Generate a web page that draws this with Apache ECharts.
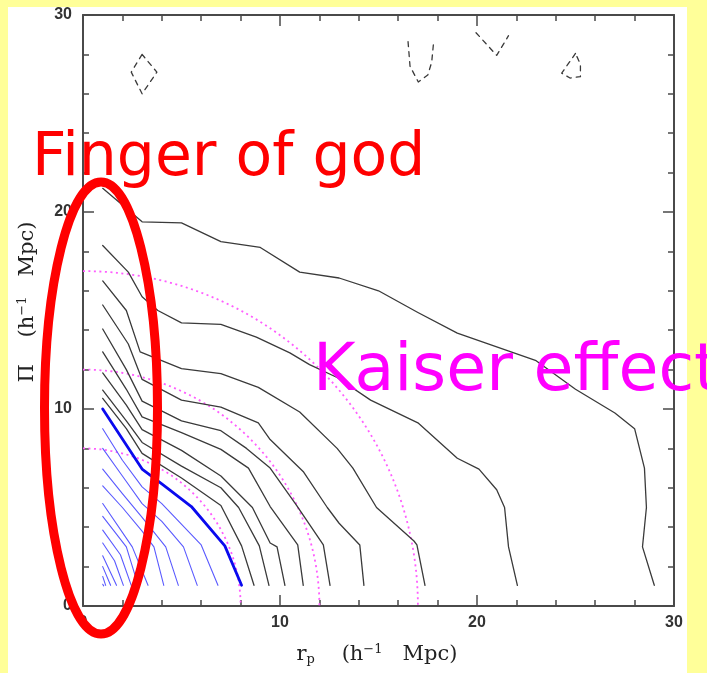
<!DOCTYPE html>
<html>
<head>
<meta charset="utf-8">
<script src="https://cdn.jsdelivr.net/npm/echarts@6/dist/echarts.min.js"></script>
<style>
  html, body { margin: 0; padding: 0; background: #ffff99; }
  #chart { width: 707px; height: 673px; }
</style>
</head>
<body>
<div id="chart"></div>
<script>
// Redshift-space correlation contours in the (r_p, Pi) plane, units h^-1 Mpc
const axisMin = 0;
const axisMax = 30;
const majorStep = 10;

// Solid contours drawn in black, outermost first
const blackContours = [
  [[1,21.2],[3,19.5],[5,19.45],[7,18.5],[9,18.2],[11,16.95],[13,16.65],[15,16.0],[17,14.9],[19,13.85],[21,13.15],[23,12.45],[25,11.0],[27,9.8],[28,9.0],[28.5,7.0],[28.6,5.0],[28.4,3.0],[29,1.05]],
  [[1,18.3],[2.3,16.95],[3,15.7],[3.8,15.0],[5,14.37],[7,14.3],[8.8,13.65],[10.5,12.85],[11.5,12.25],[12.9,11.6],[14.6,10.45],[17,9.3],[19,7.5],[20.1,6.95],[21,5.9],[21.4,5.0],[21.6,3.0],[22.05,1.05]],
  [[1,16.5],[2.2,15.0],[2.9,12.9],[5,12.05],[7,11.8],[8.9,11.1],[11,9.85],[12.9,8.0],[13.7,7.0],[14.9,5.0],[16.8,3.3],[16.95,3.1],[17.36,1.05]],
  [[1,15.28],[2.3,13.3],[3,11.5],[5,10.45],[7,10.1],[8.9,9.3],[9.5,8.45],[11.2,6.8],[12.4,5.0],[13,4.2],[14.05,3.1],[14.26,1.05]],
  [[1,14.06],[2.2,12.0],[3,10.4],[5,9.4],[7,8.9],[8.3,8.0],[9.5,7.0],[10.85,5.1],[12.2,3.1],[12.54,1.05]],
  [[1,12.9],[2.2,11.0],[3,9.6],[5,8.8],[7,7.95],[8.4,7.0],[9.5,5.05],[10.9,3.1],[11.18,1.05]],
  [[1,11.83],[2.2,10.2],[3,8.95],[5,7.9],[7,6.6],[8.6,5.0],[9.5,3.2],[9.85,3.0],[10.25,1.05]],
  [[1,10.96],[2.2,9.4],[3,8.3],[5,7.1],[7,6.0],[7.9,5.0],[8.95,3.05],[9.44,1.05]],
  [[1,10.54],[2.2,9.0],[3,7.75],[5,6.5],[7,5.1],[8.05,3.05],[8.68,1.05]]
];

// Highlighted contour (heavy blue)
const heavyContour = [[1,10.0],[3,6.95],[4,6.2],[5.5,5.05],[7.2,3.05],[8.05,1.05]];

// Inner contours drawn in thin blue, outermost first
const blueContours = [
  [[1,9.0],[2,7.4],[3,6.05],[4,5.2],[6,3.1],[6.85,1.05]],
  [[1,8.0],[2,6.6],[3,5.2],[4,4.3],[5.1,3.0],[5.8,1.05]],
  [[1,6.95],[2,5.7],[3,4.5],[4.2,3.0],[4.84,1.05]],
  [[1,6.1],[2,5.0],[3,3.8],[3.6,3.0],[4.1,1.05]],
  [[1,5.2],[2.5,3.0],[3.3,1.05]],
  [[1,4.55],[2.2,3.0],[2.8,1.05]],
  [[1,3.85],[1.9,2.6],[2.45,1.05]],
  [[1,3.2],[1.6,2.3],[2.05,1.05]],
  [[1,2.55],[1.7,1.05]],
  [[1,2.0],[1.4,1.05]],
  [[1,1.5],[1.15,1.05]],
  [[1,1.1],[1.05,1.02]]
];

// Negative-level contours (dashed) near the top edge
const negativeContours = [
  [[3,28],[2.45,27.1],[3,26],[3.75,27.1],[3,28]],
  [[16.5,28.65],[16.6,27.4],[17.02,26.6],[17.5,26.95],[17.7,27.6],[17.8,28.65]],
  [[19.95,29.1],[21,27.95],[21.6,28.95]],
  [[25,28.05],[24.3,27.05],[24.72,26.8],[25.25,26.87],[25.25,27.5],[25,28.05]]
];

// Real-space reference circles (radius, h^-1 Mpc)
const circleRadii = [8, 12, 17];

const chart = echarts.init(document.getElementById('chart'), null, { renderer: 'canvas' });

const frameColor = '#4a4a4a';
const tickFont = { fontFamily: 'Liberation Sans', fontWeight: 'bold', fontSize: 16, color: '#333' };

function makeAxis(pos, showLabels, isX) {
  return {
    type: 'value',
    min: axisMin,
    max: axisMax,
    interval: majorStep,
    position: pos,
    axisLine: { show: true, onZero: false, lineStyle: { color: frameColor, width: 2 } },
    axisTick: { show: true, inside: true, length: 11, lineStyle: { color: frameColor, width: 1.5 } },
    minorTick: { show: true, splitNumber: 5, length: 6, lineStyle: { color: frameColor, width: 1.5 } },
    splitLine: { show: false },
    minorSplitLine: { show: false },
    axisLabel: Object.assign({ show: showLabels, margin: isX ? 9 : 11, showMinLabel: true, showMaxLabel: true }, tickFont)
  };
}

function lineSeries(data, color, width, dash, z) {
  return {
    type: 'line',
    data: data,
    xAxisIndex: 0,
    yAxisIndex: 0,
    showSymbol: false,
    symbol: 'none',
    silent: true,
    animation: false,
    z: z,
    lineStyle: { color: color, width: width, type: dash || 'solid', cap: 'round', join: 'round' }
  };
}

const series = [];
series.push({
  type: 'custom',
  coordinateSystem: 'cartesian2d',
  xAxisIndex: 0,
  yAxisIndex: 0,
  data: circleRadii.map(r => [r, 0]),
  animation: false,
  silent: true,
  z: 3,
  renderItem: function (params, api) {
    const r = api.value(0);
    const c = api.coord([0, 0]);
    const e = api.coord([r, 0]);
    return {
      type: 'arc',
      shape: { cx: c[0], cy: c[1], r: e[0] - c[0], startAngle: -Math.PI / 2, endAngle: 0, clockwise: true },
      style: { stroke: '#ff5cff', lineWidth: 1.8, lineDash: [2, 3.5], fill: null }
    };
  }
});
blackContours.forEach(c => series.push(lineSeries(c, '#3a3a3a', 1.3, null, 4)));
blueContours.forEach(c => series.push(lineSeries(c, '#5a5aff', 1.1, null, 4)));
series.push(lineSeries(heavyContour, '#0a0aee', 2.8, null, 5));
negativeContours.forEach(c => series.push(lineSeries(c, '#3a3a3a', 1.3, [5, 5], 4)));

const titleFont = 'DejaVu Serif';

const option = {
  backgroundColor: '#ffff99',
  animation: false,
  grid: { left: 83, right: 33, top: 15, bottom: 67, containLabel: false },
  xAxis: [makeAxis('bottom', true, true), makeAxis('top', false, true)],
  yAxis: [makeAxis('left', true, false), makeAxis('right', false, false)],
  series: series,
  graphic: [
    { type: 'rect', z: -100, silent: true, shape: { x: 8, y: 7, width: 679, height: 666 }, style: { fill: '#ffffff' } },
    {
      type: 'text', z: 50, silent: true, x: 377, y: 655,
      style: {
        text: '{n|r}{s|p}{n|    (h}{u|−1}{n|   Mpc)}',
        align: 'center', verticalAlign: 'middle',
        rich: {
          n: { fontFamily: titleFont, fontSize: 21, fill: '#222' },
          s: { fontFamily: titleFont, fontSize: 13, fill: '#222', verticalAlign: 'bottom', padding: [10, 0, 0, 0] },
          u: { fontFamily: titleFont, fontSize: 13, fill: '#222', verticalAlign: 'top', padding: [0, 0, 10, 0] }
        }
      }
    },
    {
      type: 'text', z: 50, silent: true, x: 28, y: 302, rotation: Math.PI / 2,
      style: {
        text: '{n|Π    (h}{u|−1}{n|   Mpc)}',
        align: 'center', verticalAlign: 'middle',
        rich: {
          n: { fontFamily: titleFont, fontSize: 21, fill: '#222' },
          u: { fontFamily: titleFont, fontSize: 13, fill: '#222', verticalAlign: 'top', padding: [0, 0, 10, 0] }
        }
      }
    },
    {
      type: 'ellipse', z: 60, silent: true,
      shape: { cx: 101, cy: 408, rx: 56.5, ry: 226 },
      style: { fill: null, stroke: '#ff0000', lineWidth: 9 }
    },
    {
      type: 'text', z: 70, silent: true, x: 32, y: 159,
      style: { text: 'Finger of god', fontFamily: 'DejaVu Sans', fontSize: 60, fill: '#ff0000', align: 'left', verticalAlign: 'middle' }
    },
    {
      type: 'text', z: 70, silent: true, x: 313, y: 373,
      style: { text: 'Kaiser effect', fontFamily: 'DejaVu Sans', fontSize: 65, fill: '#ff00ff', align: 'left', verticalAlign: 'middle' }
    }
  ]
};

chart.setOption(option);
</script>
</body>
</html>
